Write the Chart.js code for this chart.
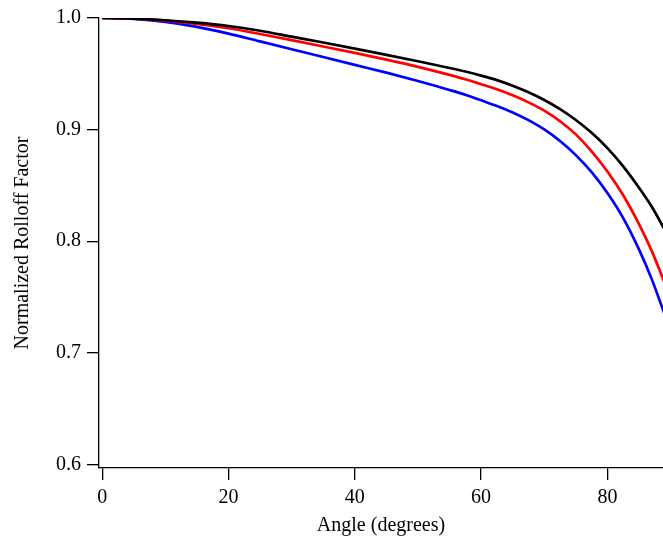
<!DOCTYPE html>
<html>
<head>
<meta charset="utf-8">
<script src="https://cdn.jsdelivr.net/npm/chart.js@4.4.0/dist/chart.umd.min.js"></script>
<style>
  html, body { margin: 0; padding: 0; background: #fff; }
  #wrap { width: 663px; height: 540px; }
</style>
</head>
<body>
<div id="wrap"><canvas id="rolloff"></canvas></div>
<script>
// angles (degrees) and the three normalized rolloff curves
// (denser sampling past 55 deg where the curves bend hard)
var angles = [0, 5, 10, 15, 20, 25, 30, 35, 40, 45, 50, 55, 57.5, 60, 62.5, 65, 67.5, 70, 72.5, 75, 77.5, 80, 82.5, 85, 87, 89];
var blackCurve = [1.0, 0.9995, 0.998, 0.9958, 0.9928, 0.9886, 0.9833, 0.978, 0.9726, 0.967, 0.9612, 0.9552, 0.952, 0.9484, 0.9443, 0.9393, 0.9334, 0.9265, 0.9183, 0.9086, 0.8971, 0.8834, 0.8671, 0.8479, 0.831, 0.811];
var redCurve = [1.0, 0.9994, 0.9976, 0.9947, 0.9908, 0.9857, 0.9802, 0.9745, 0.9687, 0.9627, 0.9562, 0.949, 0.9451, 0.9407, 0.9361, 0.9307, 0.9244, 0.917, 0.9075, 0.8957, 0.8805, 0.8624, 0.8411, 0.8153, 0.7915, 0.7634];
var blueCurve = [1.0, 0.9991, 0.9965, 0.9921, 0.986, 0.979, 0.972, 0.965, 0.958, 0.951, 0.9435, 0.9355, 0.9312, 0.9262, 0.9212, 0.9154, 0.9085, 0.9002, 0.8898, 0.8771, 0.8618, 0.8431, 0.8207, 0.7926, 0.7662, 0.7354];

var xTicks = [0, 20, 40, 60, 80];
var yTicks = [0.6, 0.7, 0.8, 0.9, 1.0];

var serif = "'Liberation Serif', 'Times New Roman', serif";

function toPoints(ys) {
    return angles.map(function(a, i) { return {x: a, y: ys[i]}; });
}

function curve(ys, colour) {
    return {
        data: toPoints(ys),
        borderColor: colour,
        borderWidth: 2.7,
        pointRadius: 0,
        fill: false,
        cubicInterpolationMode: 'monotone'
    };
}

var ctx = document.getElementById('rolloff').getContext('2d');
new Chart(ctx, {
    type: 'line',
    data: {
        datasets: [
            curve(blackCurve, '#000000'),
            curve(redCurve, '#ff0000'),
            curve(blueCurve, '#0000ff')
        ]
    },
    options: {
        responsive: true,
        maintainAspectRatio: false,
        animation: false,
        events: [],
        layout: { padding: { top: 15, right: 0, left: 0, bottom: 0 } },
        plugins: { legend: { display: false }, tooltip: { enabled: false } },
        scales: {
            x: {
                type: 'linear',
                min: -0.5,
                max: 88.8,
                afterBuildTicks: function(scale) {
                    scale.ticks = xTicks.map(function(v) { return {value: v}; });
                },
                afterFit: function(scale) { scale.height = 72; },
                grid: { drawOnChartArea: false, drawTicks: true, tickLength: 12, color: '#000', lineWidth: 1.3 },
                border: { display: true, color: '#000', width: 1.3 },
                ticks: {
                    color: '#000',
                    padding: 6,
                    maxRotation: 0,
                    font: { family: serif, size: 20 },
                    callback: function(v) { return String(v); }
                },
                title: {
                    display: true,
                    text: 'Angle (degrees)',
                    color: '#000',
                    font: { family: serif, size: 20 },
                    padding: { top: 0, bottom: 2 }
                }
            },
            y: {
                type: 'linear',
                min: 0.5967,
                max: 1.0,
                afterBuildTicks: function(scale) {
                    scale.ticks = yTicks.map(function(v) { return {value: v}; });
                },
                afterFit: function(scale) { scale.width = 99; },
                grid: { drawOnChartArea: false, drawTicks: true, tickLength: 12, color: '#000', lineWidth: 1.3 },
                border: { display: true, color: '#000', width: 1.3 },
                ticks: {
                    color: '#000',
                    padding: 6,
                    font: { family: serif, size: 20 },
                    callback: function(v) { return v.toFixed(1); }
                },
                title: {
                    display: true,
                    text: 'Normalized Rolloff Factor',
                    color: '#000',
                    font: { family: serif, size: 20 },
                    padding: { top: 11, bottom: 0 }
                }
            }
        }
    }
});
</script>
</body>
</html>
